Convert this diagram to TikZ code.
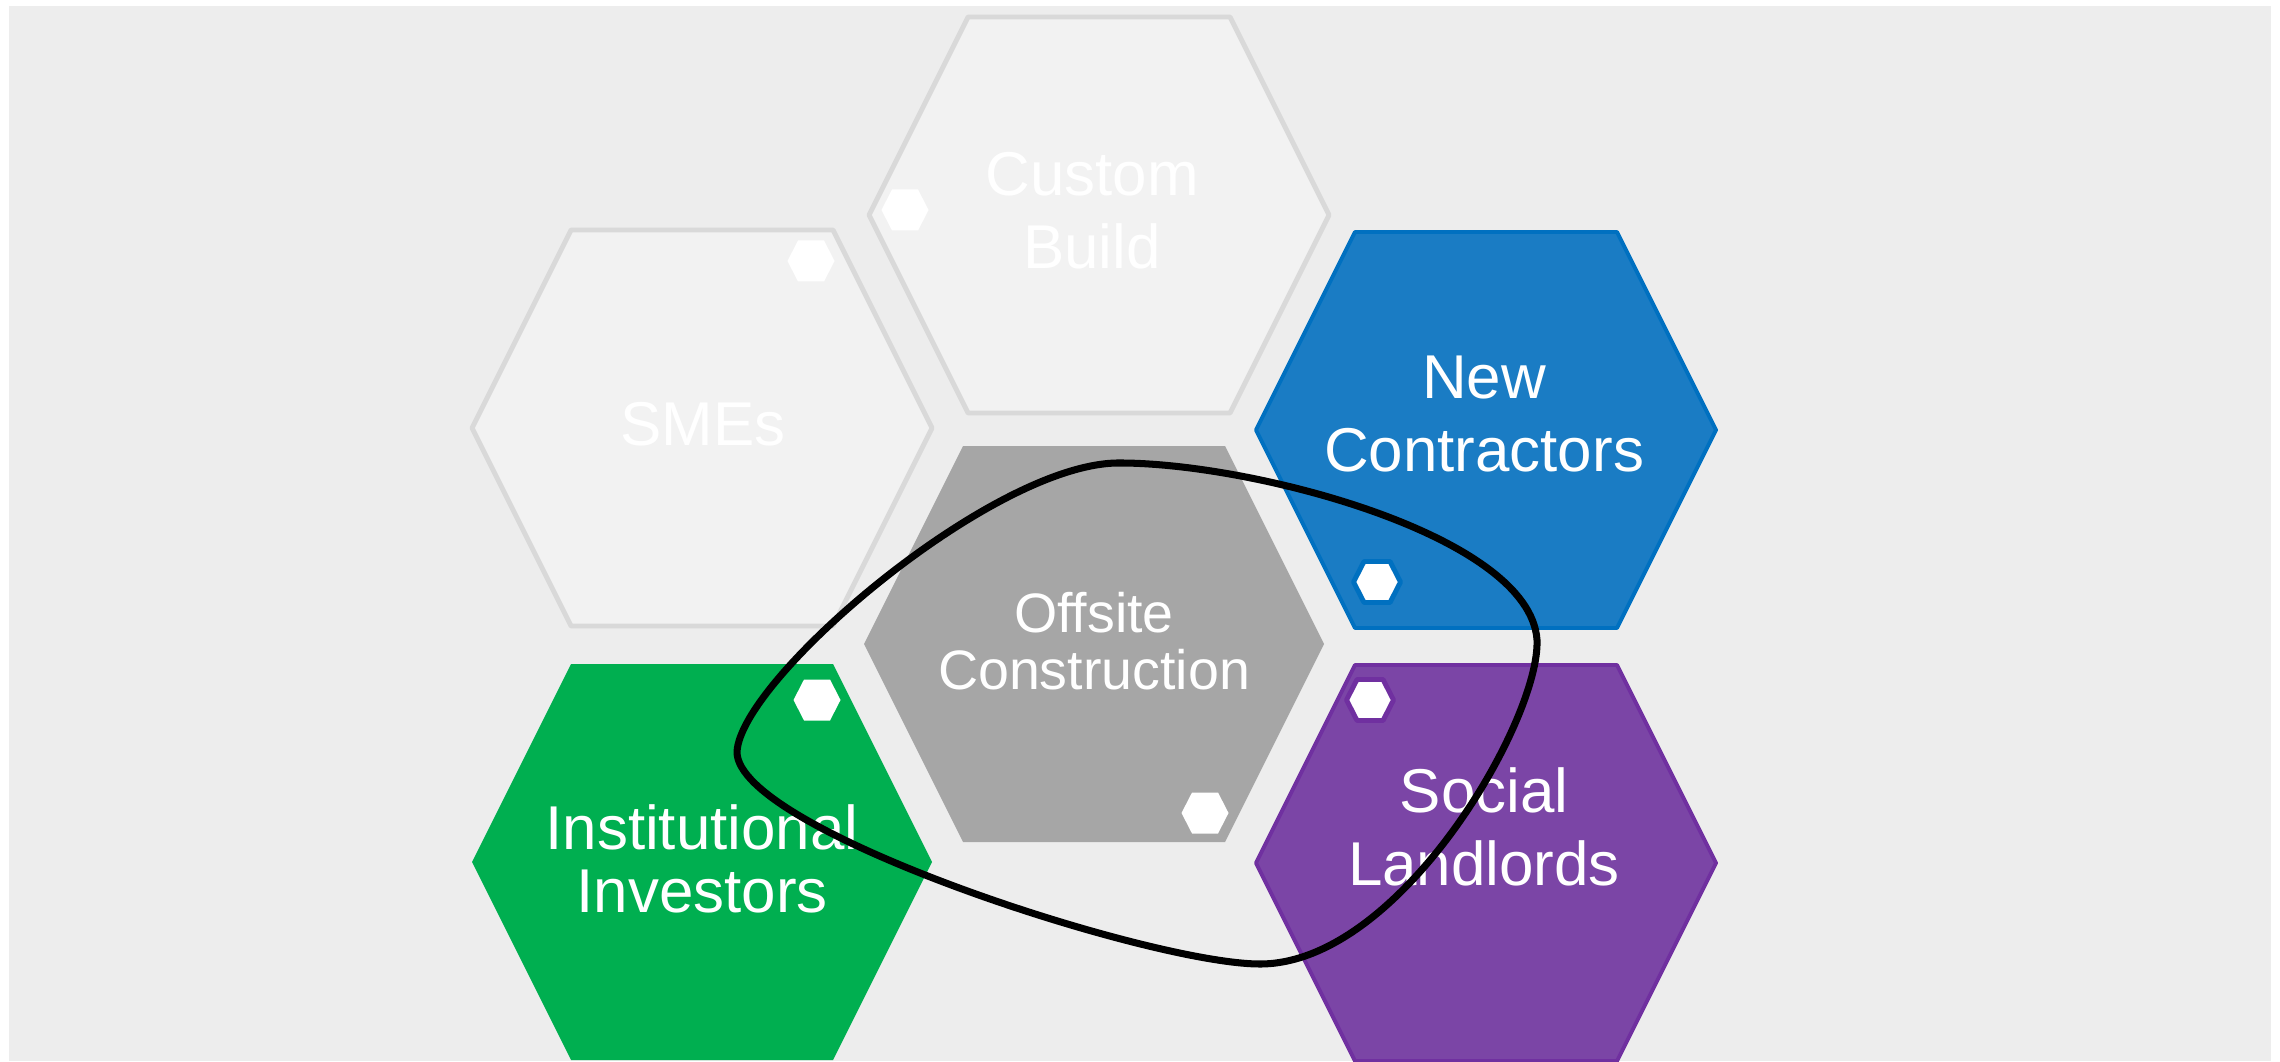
\documentclass[tikz,border=0pt]{standalone}
\usepackage{fontspec}
\setmainfont{Liberation Sans}
\definecolor{paper}{HTML}{EDEDED}
\definecolor{pale}{HTML}{F2F2F2}
\definecolor{paleline}{HTML}{D9D9D9}
\definecolor{bluefill}{HTML}{1A7CC4}
\definecolor{blueline}{HTML}{0070C0}
\definecolor{greenfill}{HTML}{00AF50}
\definecolor{purplefill}{HTML}{7B45A6}
\definecolor{purpleline}{HTML}{7030A0}
\definecolor{greyfill}{HTML}{A6A6A6}
\def\hexcell[#1](#2){\draw[#1,shift={(#2)}] (-230,0) -- (-131,-198) -- (131,-198) -- (230,0) -- (131,198) -- (-131,198) -- cycle;}
\def\minihex[#1](#2){\draw[#1,shift={(#2)}] (-23.5,0) -- (-13,-20.5) -- (13,-20.5) -- (23.5,0) -- (13,20.5) -- (-13,20.5) -- cycle;}

\begin{document}
\begin{tikzpicture}[x=0.01cm, y=-0.01cm, line join=round,
		lbl/.style={text=white, align=center, inner sep=0pt, font=\fontsize{17.6}{20.8}\selectfont},
		loopline/.style={line width=2pt, black}]
			%%%%% START %%%%%
			
			\useasboundingbox (0,0) rectangle (2280,1061);
			\fill[paper] (9,6) rectangle (2271,1061);
			
			% faded cells
			\hexcell[fill=pale, draw=paleline, line width=1.4pt](1099,215);
			\hexcell[fill=pale, draw=paleline, line width=1.4pt](702,428);
			
			% coloured cells
			\hexcell[fill=bluefill, draw=blueline, line width=1.1pt](1486,430);
			\hexcell[fill=greyfill, draw=none](1094,644);
			\hexcell[fill=greenfill, draw=none](702,862);
			\hexcell[fill=purplefill, draw=purpleline, line width=1.1pt](1486,863);
			
			% little white markers
			\minihex[fill=white, draw=none](905,210);
			\minihex[fill=white, draw=none](811,261);
			\minihex[fill=white, draw=blueline, line width=1.4pt](1377,582);
			\minihex[fill=white, draw=none](1205,813);
			\minihex[fill=white, draw=none](817,700);
			\minihex[fill=white, draw=purpleline, line width=1.4pt](1370,700);
			
			\node[lbl] (custom) at (1092,211) {Custom\\Build};
			\node[lbl] (smes) at (703,424) {SMEs};
			\node[lbl] (newc) at (1484,414) {New\\Contractors};
			\node[lbl, font=\fontsize{15.8}{16.4}\selectfont] (offsite) at (1094,641) {Offsite\\Construction};
			\node[lbl, font=\fontsize{17.6}{17.9}\selectfont] (inst) at (702,859) {Institutional\\Investors};
			\node[lbl] (social) at (1484,827) {Social\\Landlords};
			
			% hand drawn loop
			\draw[loopline] (737,752) .. controls (740,680) and (990,465) .. (1117,463)
				.. controls (1250,462) and (1530,535) .. (1537,640)
				.. controls (1540,720) and (1400,964) .. (1260,964)
				.. controls (1150,964) and (737,830) .. cycle;
			
			%%%%% END %%%%%
		\end{tikzpicture}
\end{document}
